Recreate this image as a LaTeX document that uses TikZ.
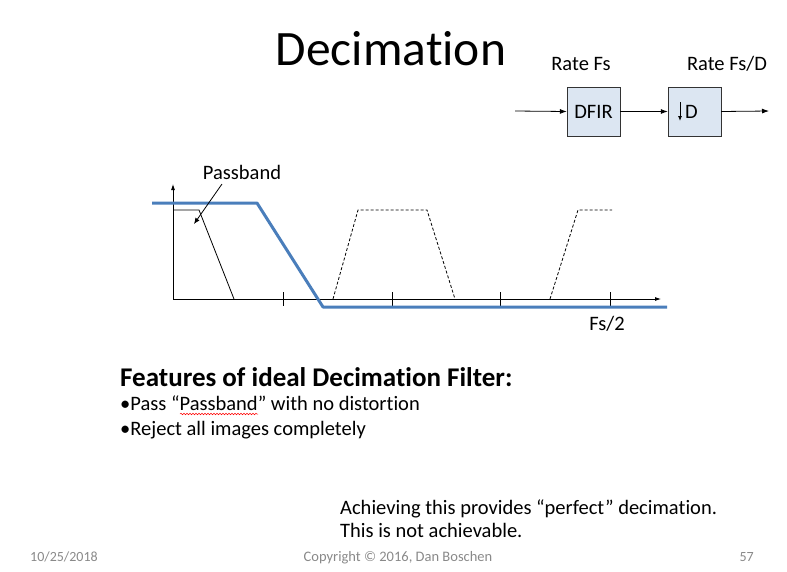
\documentclass[tikz,border=0pt]{standalone}
\usepackage{fontspec}
\setmainfont{Carlito}[Ligatures=NoCommon]
\usetikzlibrary{arrows.meta,decorations.pathmorphing}
\definecolor{boxfill}{RGB}{220,230,242}
\definecolor{bluecurve}{RGB}{74,126,187}
\definecolor{footgray}{RGB}{137,137,137}
\tikzset{
  blk/.style={draw=black!80, fill=boxfill, minimum width=53pt, minimum height=49pt, inner sep=0pt, font=\fontsize{20.5}{24}\selectfont},
  sig/.style={-{Latex[length=7pt,width=5pt]}, line width=0.8pt},
  lbl/.style={inner sep=0pt, font=\fontsize{20.5}{24}\selectfont},
  foot/.style={inner sep=0pt, text=footgray, font=\fontsize{14.5}{17}\selectfont},
  footnum/.style={inner sep=0pt, text=footgray, font=\fontsize{14}{17}\selectfont},
  thin/.style={line width=0.8pt},
  img/.style={line width=0.8pt, dash pattern=on 3pt off 2pt},
  ax/.style={-{Latex[length=6pt,width=4pt]}, line width=0.8pt}
}
\begin{document}
\begin{tikzpicture}[x=1pt,y=-1pt]
\useasboundingbox (0,0) rectangle (787,571);
% title
\node[inner sep=0pt, anchor=base, font=\fontsize{49.5}{56}\selectfont] (title) at (391,65) {Decimation};
% block diagram
\node[lbl, anchor=base] (ratefs) at (581,70) {Rate Fs};
\node[lbl, anchor=base] (ratefsd) at (727,70) {Rate Fs/D};
\coordinate (in) at (515,111);
\node[blk] (dfir) at (593.5,111.5) {DFIR};
\node[blk] (dec) at (694.5,111.5) {};
\coordinate (out) at (769,111);
\draw[sig] (in) -- (dfir.west);
\draw[sig] (dfir.east) -- (dec.west);
\draw[sig] (dec.east) -- (out);
\coordinate (dtop) at (680,102);
\coordinate (dbot) at (680,121);
\draw[-{Latex[length=5pt,width=4pt]}, line width=0.9pt] (dtop) -- (dbot);
\node[lbl, anchor=west] (dlabel) at (685,112) {D};
% axes
\coordinate (o) at (173,299);
\coordinate (ytop) at (173,184);
\coordinate (xend) at (661,299);
\draw[ax] (o) -- (ytop);
\draw[ax] (o) -- (xend);
\foreach \t in {283,392,500,610} \draw[thin] (\t,292) -- (\t,306);
% passband
\draw[thin] (173,210) -- (199,210) -- (234,299);
% images
\draw[img] (333,299) -- (358,210) -- (427,210) -- (455,299);
\draw[img] (550,299) -- (578,210) -- (612,210);
% blue filter
\draw[bluecurve, line width=3pt, line join=round] (152,203) -- (257,203) -- (323,307) -- (667,307);
% labels
\node[lbl, anchor=base] (pb) at (242,179) {Passband};
\coordinate (pbtip) at (194,224);
\draw[-{Latex[length=6pt,width=5pt]}, line width=0.8pt] (222,184) -- (pbtip);
\node[lbl, anchor=base] (fs2) at (607,330) {Fs/2};
% features
\node[inner sep=0pt, anchor=base west, font=\fontsize{27}{30}\selectfont\bfseries] (feat) at (120,386) {Features of ideal Decimation Filter:};
\node[lbl, anchor=base west] (b1) at (120,410) {•Pass “Passband” with no distortion};
\node[lbl, anchor=base west] (b2) at (120,435) {•Reject all images completely};
\draw[red, line width=0.5pt, decorate, decoration={snake, amplitude=0.8pt, segment length=3pt}] (180,414) -- (258,414);
% conclusion
\node[lbl, anchor=base west] (c1) at (340,514) {Achieving this provides “perfect” decimation.};
\node[lbl, anchor=base west] (c2) at (340,537) {This is not achievable.};
% footer
\node[footnum, anchor=base west] (date) at (30,561) {10/25/2018};
\node[foot, anchor=base] (copy) at (398,561) {Copyright © 2016, Dan Boschen};
\node[footnum, anchor=base east] (page) at (754,561) {57};
\end{tikzpicture}
\end{document}
